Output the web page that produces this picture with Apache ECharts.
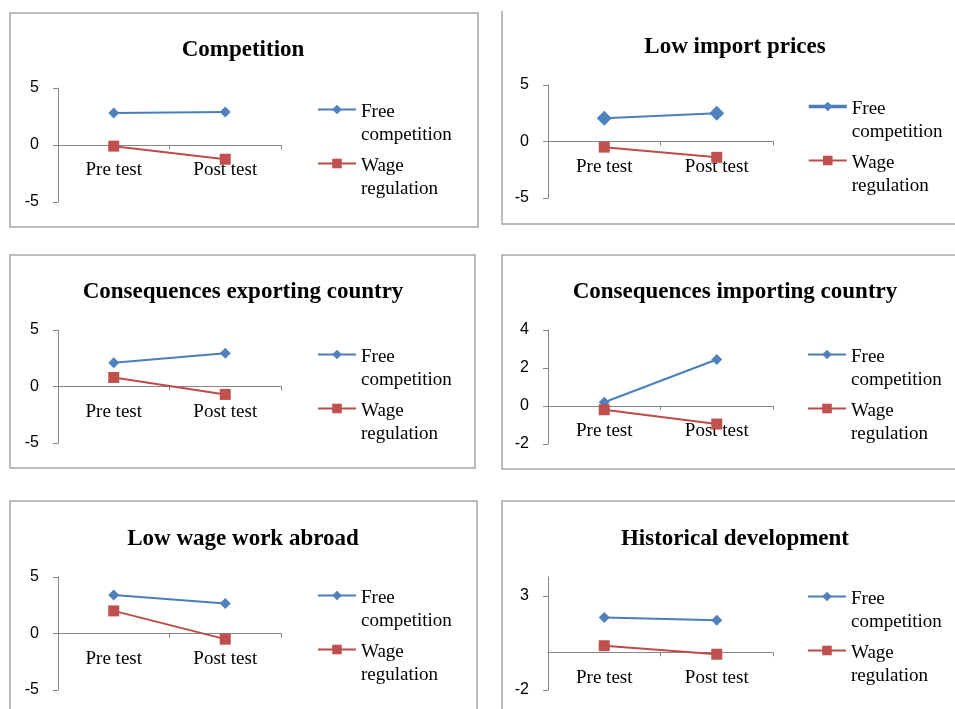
<!DOCTYPE html>
<html>
<head>
<meta charset="utf-8">
<script src="https://cdn.jsdelivr.net/npm/echarts@6/dist/echarts.min.js"></script>
<style>
  body { margin: 0; background: #fff; }
  #main { width: 955px; height: 709px; }
</style>
</head>
<body>
<div id="main"></div>
<script>
// data
var categories = ['Pre test', 'Post test'];
var seriesNames = ['Free competition', 'Wage regulation'];
var panelTitles = ['Competition', 'Low import prices', 'Consequences exporting country',
  'Consequences importing country', 'Low wage work abroad', 'Historical development'];

var competitionFree = [2.8, 2.9];
var competitionWage = [-0.1, -1.25];
var importPricesFree = [2.05, 2.5];
var importPricesWage = [-0.5, -1.4];
var exportingFree = [2.1, 2.95];
var exportingWage = [0.8, -0.7];
var importingFree = [0.2, 2.45];
var importingWage = [-0.2, -0.95];
var lowWageFree = [3.4, 2.65];
var lowWageWage = [2.0, -0.5];
var historicalFree = [1.85, 1.7];
var historicalWage = [0.35, -0.1];

var yTicks = [[-5, 0, 5], [-5, 0, 5], [-5, 0, 5], [-2, 0, 2, 4], [-5, 0, 5], [-2, 3]];
var yMin = [-5, -5, -5, -2, -5, -2];
var yMax = [5, 5, 5, 4, 5, 4];

var freeValues = [competitionFree, importPricesFree, exportingFree, importingFree, lowWageFree, historicalFree];
var wageValues = [competitionWage, importPricesWage, exportingWage, importingWage, lowWageWage, historicalWage];

// layout of the six panels
var layout = [
  { grid: [58, 88, 223, 114], title: [243, 48], legend: [317, 110] },
  { grid: [548, 85, 225, 113], title: [735, 45], legend: [807, 107] },
  { grid: [58, 330, 223, 113], title: [243, 290], legend: [317, 355] },
  { grid: [548, 330, 225, 114], title: [735, 290], legend: [807, 355] },
  { grid: [58, 577, 223, 113], title: [243, 537], legend: [317, 596] },
  { grid: [548, 577, 225, 113], title: [735, 537], legend: [807, 597] }
];

var blue = '#4A7EBB', blueFill = '#4F81BD';
var red = '#BE4B48', redFill = '#C0504D';
var axisGray = '#868686';
var serif = '"Liberation Serif", "Times New Roman", serif';
var sans = '"Liberation Sans", Arial, sans-serif';

var myChart = echarts.init(document.getElementById('main'));

var grids = [], xAxes = [], yAxes = [], series = [], titles = [], legends = [];

layout.forEach(function (p, i) {
  // x labels sit under the zero line, not under the grid bottom
  var zeroFromBottom = p.grid[3] * (0 - yMin[i]) / (yMax[i] - yMin[i]);
  grids.push({
    left: p.grid[0], top: p.grid[1], width: p.grid[2], height: p.grid[3],
    containLabel: false, outerBoundsMode: 'none'
  });
  xAxes.push({
    type: 'category', gridIndex: i, data: categories, boundaryGap: true,
    axisLine: { onZero: true, lineStyle: { color: axisGray, width: 1 } },
    axisTick: { show: true, length: 4, lineStyle: { color: axisGray } },
    axisLabel: { margin: 16 - zeroFromBottom, color: '#000', fontFamily: serif, fontSize: 19 },
    splitLine: { show: false }
  });
  yAxes.push({
    type: 'value', gridIndex: i, min: yMin[i], max: yMax[i],
    axisLine: { show: true, onZero: false, lineStyle: { color: axisGray, width: 1 } },
    axisTick: { show: true, length: 5, customValues: yTicks[i], lineStyle: { color: axisGray } },
    axisLabel: { margin: 19, customValues: yTicks[i], color: '#000', fontFamily: sans, fontSize: 16 },
    splitLine: { show: false }
  });
  series.push({
    name: seriesNames[0], type: 'line', xAxisIndex: i, yAxisIndex: i,
    data: freeValues[i], symbol: 'diamond', symbolSize: i === 1 ? 15 : 11,
    lineStyle: { color: blue, width: 2 }, itemStyle: { color: blueFill },
    emphasis: { disabled: true }
  });
  series.push({
    name: seriesNames[1], type: 'line', xAxisIndex: i, yAxisIndex: i,
    data: wageValues[i], symbol: 'rect', symbolSize: 11,
    lineStyle: { color: red, width: 2 }, itemStyle: { color: redFill },
    emphasis: { disabled: true }
  });
  titles.push({
    text: panelTitles[i], left: p.title[0], top: p.title[1] - 9, textAlign: 'center', padding: 0,
    textStyle: { fontFamily: serif, fontWeight: 'bold', fontSize: 23, color: '#000' }
  });
  legends.push({
    orient: 'vertical', left: p.legend[0], top: p.legend[1] - 33, padding: 0,
    itemWidth: 38, itemHeight: 12, itemGap: -14, selectedMode: false,
    data: [
      { name: seriesNames[0], lineStyle: { width: i === 1 ? 3.5 : 2 } },
      { name: seriesNames[1] }
    ],
    // empty first line pushes the two text lines so the first one meets the icon
    formatter: function (name) {
      var parts = name.split(' ');
      return '{s| }\n{t|' + parts[0] + '}\n{t|' + parts[1] + '}';
    },
    textStyle: {
      fontFamily: serif, fontSize: 19, color: '#000',
      rich: {
        s: { fontFamily: serif, fontSize: 19, lineHeight: 29 },
        t: { fontFamily: serif, fontSize: 19, lineHeight: 23, color: '#000' }
      }
    }
  });
});

// panel frames
var frame = { stroke: '#A6A6A6', lineWidth: 1.5, fill: null };
var graphics = [
  { type: 'rect', shape: { x: 10, y: 13, width: 468, height: 214 }, style: frame, silent: true },
  { type: 'polyline', shape: { points: [[502, 11], [502, 224], [955, 224]] }, style: frame, silent: true },
  { type: 'rect', shape: { x: 10, y: 255, width: 465, height: 213 }, style: frame, silent: true },
  { type: 'polyline', shape: { points: [[955, 255], [502, 255], [502, 469], [955, 469]] }, style: frame, silent: true },
  { type: 'polyline', shape: { points: [[10, 709], [10, 501], [477, 501], [477, 709]] }, style: frame, silent: true },
  { type: 'polyline', shape: { points: [[955, 501], [502, 501], [502, 709]] }, style: frame, silent: true }
];

var option = {
  animation: false,
  backgroundColor: '#fff',
  title: titles,
  legend: legends,
  grid: grids,
  xAxis: xAxes,
  yAxis: yAxes,
  series: series,
  graphic: graphics
};
myChart.setOption(option);
</script>
</body>
</html>
